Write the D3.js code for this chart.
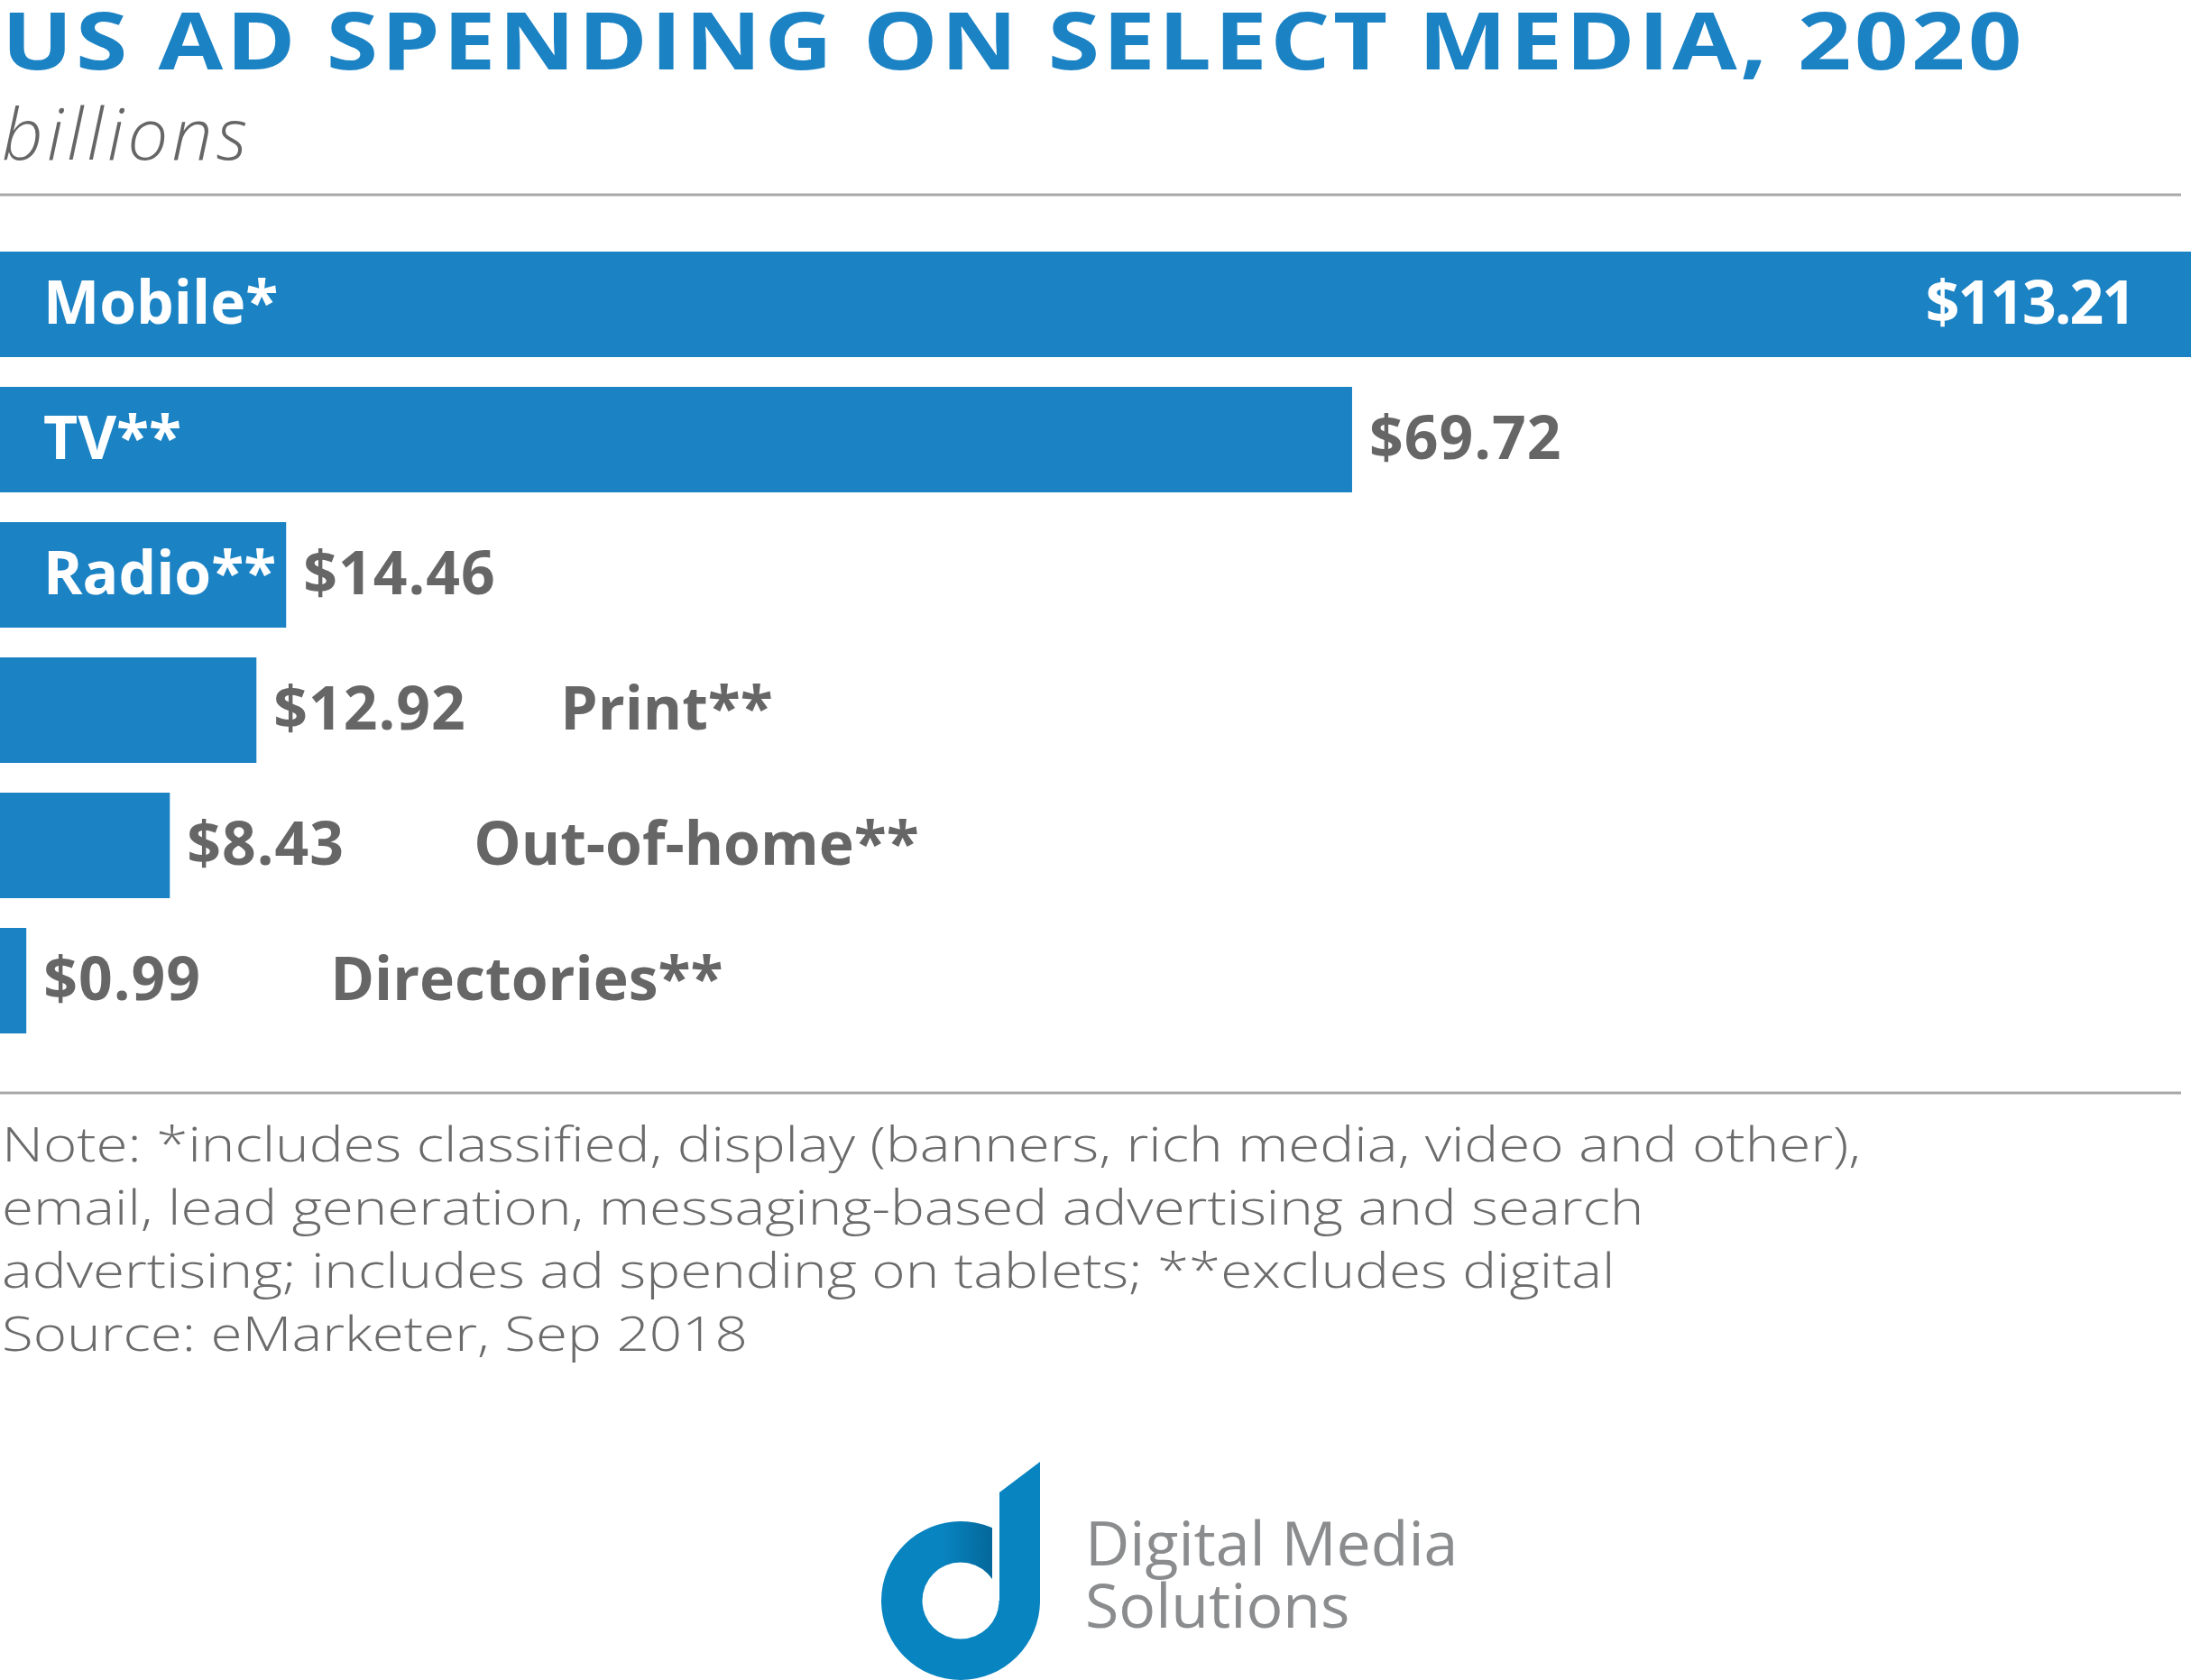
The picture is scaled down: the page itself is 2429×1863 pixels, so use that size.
<!DOCTYPE html>
<html><head><meta charset="utf-8">
<script src="https://cdn.jsdelivr.net/npm/d3@7"></script>
<style>body{margin:0;background:#fff;} svg{display:block}</style>
</head><body>
<script>
// ---- data ----
const categories = ["Mobile*", "TV**", "Radio**", "Print**", "Out-of-home**", "Directories**"];
const values = [113.21, 69.72, 14.46, 12.92, 8.43, 0.99];
const titleText = "US AD SPENDING ON SELECT MEDIA, 2020";
const subtitleText = "billions";
const noteLines = [
  "Note: *includes classified, display (banners, rich media, video and other),",
  "email, lead generation, messaging-based advertising and search",
  "advertising; includes ad spending on tablets; **excludes digital",
  "Source: eMarketer, Sep 2018"
];
const logoLines = ["Digital Media", "Solutions"];

// ---- setup ----
const W = 2429, H = 1863;
const BLUE = "#1b82c4", GREY = "#666666", NOTE = "#6b6b6b", RULE = "#a9a9a9";
const FONT = "'Open Sans', 'Noto Sans', sans-serif";
const fmt = d3.format("$.2f");

const svg = d3.select("body").append("svg").attr("width", W).attr("height", H);

// title & subtitle
svg.append("text").attr("x", 2).attr("y", 77)
  .attr("font-family", FONT).attr("font-weight", 700).attr("font-size", 88)
  .attr("letter-spacing", 3)
  .attr("fill", BLUE).attr("textLength", 2243).attr("lengthAdjust", "spacingAndGlyphs")
  .text(titleText);
svg.append("text").attr("x", 2).attr("y", 177)
  .attr("font-family", FONT).attr("font-weight", 300).attr("font-style", "italic")
  .attr("font-size", 80).attr("fill", GREY).attr("textLength", 272).attr("lengthAdjust", "spacing")
  .text(subtitleText);

// rules
svg.append("line").attr("x1", 0).attr("x2", 2418).attr("y1", 216).attr("y2", 216)
  .attr("stroke", RULE).attr("stroke-width", 3);
svg.append("line").attr("x1", 0).attr("x2", 2418).attr("y1", 1212).attr("y2", 1212)
  .attr("stroke", RULE).attr("stroke-width", 3);

// scales
const x = d3.scaleLinear().domain([0, d3.max(values)]).range([8, W]);
const y = d3.scaleBand().domain(categories).range([279, 1146]).paddingInner(0.22).paddingOuter(0);
const bw = y.bandwidth();
const data = categories.map((c, i) => ({ c, v: values[i] }));
const maxV = d3.max(values);
const insideMin = 14; // bars at least this large carry their name inside

const g = svg.append("g");
g.selectAll("rect").data(data).join("rect")
  .attr("x", 0).attr("y", d => y(d.c))
  .attr("width", d => x(d.v)).attr("height", bw)
  .attr("fill", BLUE);

const fs = 66, base = bw / 2 + 21, valGap = 19, catGap = 318;
// category labels
g.selectAll("text.cat").data(data).join("text").attr("class", "cat")
  .attr("x", d => d.v >= insideMin ? 48 : x(d.v) + valGap + catGap)
  .attr("y", d => y(d.c) + base)
  .attr("font-family", FONT).attr("font-weight", 700).attr("font-size", fs)
  .attr("fill", d => d.v >= insideMin ? "#ffffff" : GREY)
  .text(d => d.c);
// value labels
g.selectAll("text.val").data(data).join("text").attr("class", "val")
  .attr("x", d => d.v === maxV ? x(d.v) - 63 : x(d.v) + valGap)
  .attr("text-anchor", d => d.v === maxV ? "end" : "start")
  .attr("y", d => y(d.c) + base)
  .attr("font-family", FONT).attr("font-weight", 700).attr("font-size", fs)
  .attr("letter-spacing", d => d.v === maxV ? -2 : 1)
  .attr("fill", d => d.v === maxV ? "#ffffff" : GREY)
  .text(d => fmt(d.v));

// notes (Montserrat-like wide light face: stretch horizontally)
svg.append("g").attr("transform", "translate(2,0) scale(1.18,1)")
  .selectAll("text").data(noteLines).join("text")
  .attr("x", 0).attr("y", (d, i) => 1288 + i * 70)
  .attr("font-family", FONT).attr("font-weight", 300).attr("font-size", 54)
  .attr("fill", NOTE).text(d => d);

// logo
const defs = svg.append("defs");
const cx = 1065, cy = 1775, ro = 88, ri = 42.5;
defs.append("clipPath").attr("id", "bowlClip").append("path")
  .attr("d", `M0,0 H1100 V${cy} H${W} V${H} H0 Z`);
defs.append("clipPath").attr("id", "shadeClip").append("rect")
  .attr("x", 1030).attr("y", 1680).attr("width", 70).attr("height", 80);
const grad = defs.append("linearGradient").attr("id", "shade")
  .attr("gradientUnits", "userSpaceOnUse").attr("x1", 1045).attr("x2", 1100).attr("y1", 0).attr("y2", 0);
grad.append("stop").attr("offset", 0).attr("stop-color", "#00507a").attr("stop-opacity", 0);
grad.append("stop").attr("offset", 1).attr("stop-color", "#00507a").attr("stop-opacity", 0.55);
const ringPath = `M${cx - ro},${cy} a${ro},${ro} 0 1,0 ${2 * ro},0 a${ro},${ro} 0 1,0 ${-2 * ro},0 Z ` +
                 `M${cx - ri},${cy} a${ri},${ri} 0 1,0 ${2 * ri},0 a${ri},${ri} 0 1,0 ${-2 * ri},0 Z`;
const LOGO = "#0884c1";
svg.append("path").attr("d", ringPath).attr("fill-rule", "evenodd").attr("fill", LOGO)
  .attr("clip-path", "url(#bowlClip)");
svg.append("path").attr("d", ringPath).attr("fill-rule", "evenodd").attr("fill", "url(#shade)")
  .attr("clip-path", "url(#shadeClip)");
svg.append("path").attr("d", `M1108,1655 L1153,1621 L1153,${cy} L1108,${cy} Z`).attr("fill", LOGO);

svg.append("g").selectAll("text").data(logoLines).join("text")
  .attr("x", 1203).attr("y", (d, i) => 1736 + i * 69)
  .attr("font-family", FONT).attr("font-weight", 400).attr("font-size", 68)
  .attr("fill", "#8a8c8e").text(d => d);
</script>
</body></html>
